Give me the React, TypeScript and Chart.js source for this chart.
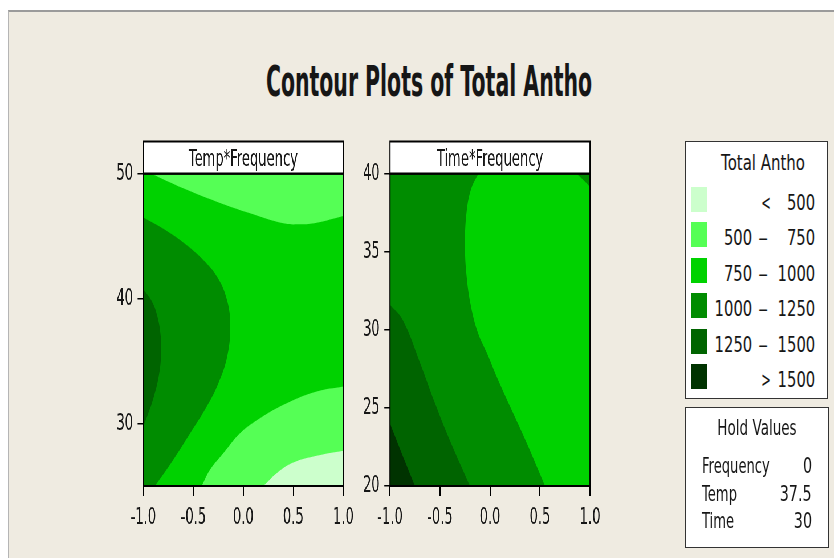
import React, { useEffect, useRef } from "react";
import { Chart, registerables } from "chart.js";
Chart.register(...registerables);

// ---------- data ----------
const LEVEL_COLORS = ["#CCFFCC", "#55FF55", "#00D200", "#008C00", "#006400", "#003300"];
const LEGEND_TITLE = "Total Antho";
const LEGEND_LOW = ["", "500", "750", "1000", "1250", ""];
const LEGEND_SYM = ["<", "–", "–", "–", "–", ">"];
const LEGEND_HIGH = ["500", "750", "1000", "1250", "1500", "1500"];
const HOLD_TITLE = "Hold Values";
const HOLD_NAMES = ["Frequency", "Temp", "Time"];
const HOLD_VALUES = ["0", "37.5", "30"];
const CHART_TITLE = "Contour Plots of Total Antho";

const X_RANGE = [-1, 1];
const X_TICKS = [-1, -0.5, 0, 0.5, 1];
const TF_Y_RANGE = [25, 50];
const TF_Y_TICKS = [30, 40, 50];
const TIME_Y_RANGE = [20, 40];
const TIME_Y_TICKS = [20, 25, 30, 35, 40];

// Temp*Frequency contour boundaries
const TF_TOP_500_750 = [
  { x: -0.92, y: 50 }, { x: -0.6, y: 48.83 }, { x: -0.266, y: 47.76 }, { x: 0.067, y: 46.83 },
  { x: 0.4, y: 46.03 }, { x: 0.567, y: 45.95 }, { x: 0.734, y: 46.08 }, { x: 1, y: 46.62 },
];
const TF_LEFT_1000_1250 = [
  { x: -1, y: 46.5 }, { x: -0.8, y: 45.6 }, { x: -0.6, y: 44.5 }, { x: -0.4, y: 43.1 },
  { x: -0.25, y: 41.6 }, { x: -0.16, y: 39.8 }, { x: -0.13, y: 37.8 }, { x: -0.16, y: 35.4 },
  { x: -0.25, y: 33.2 }, { x: -0.37, y: 31.3 }, { x: -0.533, y: 29.2 }, { x: -0.7, y: 27.1 },
  { x: -0.883, y: 25 },
];
const TF_LEFT_1250_1500 = [
  { x: -1, y: 40.75 }, { x: -0.916, y: 39.8 }, { x: -0.86, y: 38.6 }, { x: -0.826, y: 37.0 },
  { x: -0.822, y: 35.5 }, { x: -0.845, y: 33.8 }, { x: -0.9, y: 32.0 }, { x: -0.96, y: 30.6 },
  { x: -1, y: 29.76 },
];
const TF_BOTTOM_500_750 = [
  { x: 1, y: 32.96 }, { x: 0.734, y: 32.56 }, { x: 0.434, y: 31.63 }, { x: 0.167, y: 30.43 },
  { x: -0.033, y: 29.23 }, { x: -0.2, y: 27.63 }, { x: -0.333, y: 26.3 }, { x: -0.416, y: 25 },
];
const TF_BOTTOM_500 = [
  { x: 1, y: 27.82 }, { x: 0.734, y: 27.42 }, { x: 0.5, y: 26.88 }, { x: 0.334, y: 26.03 },
  { x: 0.2, y: 25 },
];

// Time*Frequency contour boundaries
const TIME_750_1000 = [
  { x: -0.117, y: 40 }, { x: -0.19, y: 39 }, { x: -0.235, y: 37.5 }, { x: -0.25, y: 35.5 },
  { x: -0.235, y: 33.5 }, { x: -0.19, y: 31.5 }, { x: -0.12, y: 29.8 }, { x: -0.03, y: 28.5 },
  { x: 0.067, y: 27.0 }, { x: 0.2, y: 25.1 }, { x: 0.367, y: 22.75 }, { x: 0.55, y: 20 },
];
const TIME_CORNER_1000_1250 = [
  { x: 0.867, y: 40 }, { x: 0.933, y: 39.6 }, { x: 1, y: 39.17 },
];
const TIME_1250_1500 = [
  { x: -1, y: 31.6 }, { x: -0.87, y: 30.6 }, { x: -0.7, y: 27.9 }, { x: -0.55, y: 25.3 },
  { x: -0.4, y: 22.9 }, { x: -0.2, y: 20 },
];
const TIME_1500 = [
  { x: -1, y: 24.0 }, { x: -0.883, y: 22.1 }, { x: -0.75, y: 20 },
];

// ---------- panels ----------
type P = { x: number; y: number };
const corner = (x: number, y: number): P => ({ x, y });

const TF_PANEL = {
  title: "Temp*Frequency",
  yRange: TF_Y_RANGE,
  yTicks: TF_Y_TICKS,
  layers: [
    { level: 2, curve: [], corners: [corner(X_RANGE[0], TF_Y_RANGE[0]), corner(X_RANGE[1], TF_Y_RANGE[0]), corner(X_RANGE[1], TF_Y_RANGE[1]), corner(X_RANGE[0], TF_Y_RANGE[1])] },
    { level: 1, curve: TF_TOP_500_750, corners: [corner(X_RANGE[1], TF_Y_RANGE[1])] },
    { level: 3, curve: TF_LEFT_1000_1250, corners: [corner(X_RANGE[0], TF_Y_RANGE[0])] },
    { level: 4, curve: TF_LEFT_1250_1500, corners: [] },
    { level: 1, curve: TF_BOTTOM_500_750, corners: [corner(X_RANGE[1], TF_Y_RANGE[0])] },
    { level: 0, curve: TF_BOTTOM_500, corners: [corner(X_RANGE[1], TF_Y_RANGE[0])] },
  ],
};

const TIME_PANEL = {
  title: "Time*Frequency",
  yRange: TIME_Y_RANGE,
  yTicks: TIME_Y_TICKS,
  layers: [
    { level: 3, curve: [], corners: [corner(X_RANGE[0], TIME_Y_RANGE[0]), corner(X_RANGE[1], TIME_Y_RANGE[0]), corner(X_RANGE[1], TIME_Y_RANGE[1]), corner(X_RANGE[0], TIME_Y_RANGE[1])] },
    { level: 2, curve: TIME_750_1000, corners: [corner(X_RANGE[1], TIME_Y_RANGE[0]), corner(X_RANGE[1], TIME_Y_RANGE[1])] },
    { level: 3, curve: TIME_CORNER_1000_1250, corners: [corner(X_RANGE[1], TIME_Y_RANGE[1])] },
    { level: 4, curve: TIME_1250_1500, corners: [corner(X_RANGE[0], TIME_Y_RANGE[0])] },
    { level: 5, curve: TIME_1500, corners: [corner(X_RANGE[0], TIME_Y_RANGE[0])] },
  ],
};

// polygon for a filled region: smooth boundary curve, sharp corners (doubled vertices)
function polygon(curve: P[], corners: P[]): P[] {
  const out: P[] = [];
  if (curve.length) {
    out.push(curve[0]);
    out.push(...curve);
    out.push(curve[curve.length - 1]);
  }
  corners.forEach((c) => { out.push(c, c); });
  return out;
}

// ---------- layout ----------
const S = 0.57; // horizontal squeeze of chart canvases
const BUF_W = 1463;
const H = 558;
const AREA_TOP = 173.7;
const AREA_BOTTOM = 486;
const HEADER_TOP = 141.5;
const FONT = '"DejaVu Sans", sans-serif';
const TEXT = "#161616";

const headerPlugin = {
  id: "panelHeader",
  afterDatasetsDraw(chart: any, _args: any, opts: any) {
    const { ctx, chartArea: a } = chart;
    ctx.save();
    ctx.fillStyle = "#ffffff";
    ctx.fillRect(a.left, HEADER_TOP, a.right - a.left, a.top - HEADER_TOP);
    ctx.strokeStyle = "#000";
    ctx.lineWidth = 2;
    ctx.strokeRect(a.left, HEADER_TOP, a.right - a.left, a.top - HEADER_TOP);
    ctx.strokeRect(a.left, a.top, a.right - a.left, a.bottom - a.top);
    ctx.fillStyle = TEXT;
    ctx.font = `23px ${FONT}`;
    ctx.textAlign = "center";
    ctx.textBaseline = "alphabetic";
    ctx.fillText(opts.text, (a.left + a.right) / 2, 165.5);
    ctx.restore();
  },
};

function Panel({ spec, left, right }: { spec: any; left: number; right: number }) {
  const ref = useRef<HTMLCanvasElement>(null);
  useEffect(() => {
    const Y_AXIS_W = 80;
    const X_AXIS_H = 50;
    const chart = new Chart(ref.current as HTMLCanvasElement, {
      type: "line",
      data: {
        datasets: spec.layers.map((l: any, i: number) => ({
          data: polygon(l.curve, l.corners),
          backgroundColor: LEVEL_COLORS[l.level],
          borderColor: "rgba(0,0,0,0)",
          borderWidth: 0,
          pointRadius: 0,
          pointHoverRadius: 0,
          fill: "shape",
          tension: 0.4,
          capBezierPoints: true,
          order: spec.layers.length - i,
        })),
      },
      options: {
        responsive: false,
        animation: false,
        events: [],
        layout: {
          padding: {
            left: left / S - Y_AXIS_W,
            right: BUF_W - right / S,
            top: AREA_TOP,
            bottom: H - AREA_BOTTOM - X_AXIS_H,
          },
        },
        plugins: {
          legend: { display: false },
          tooltip: { enabled: false },
          // @ts-ignore
          panelHeader: { text: spec.title },
        },
        scales: {
          x: {
            type: "linear",
            min: X_RANGE[0],
            max: X_RANGE[1],
            afterBuildTicks: (s: any) => { s.ticks = X_TICKS.map((v) => ({ value: v })); },
            afterFit: (s: any) => { s.height = X_AXIS_H; },
            grid: { display: true, drawOnChartArea: false, drawTicks: true, tickLength: 10, color: "#000", lineWidth: 2 },
            border: { display: false },
            ticks: {
              font: { family: FONT, size: 23 },
              color: TEXT,
              padding: 8,
              maxRotation: 0,
              autoSkip: false,
              callback: (v: any) => Number(v).toFixed(1),
            },
          },
          y: {
            type: "linear",
            min: spec.yRange[0],
            max: spec.yRange[1],
            afterBuildTicks: (s: any) => { s.ticks = spec.yTicks.map((v: number) => ({ value: v })); },
            afterFit: (s: any) => { s.width = Y_AXIS_W; },
            grid: { display: true, drawOnChartArea: false, drawTicks: true, tickLength: 10, color: "#000", lineWidth: 1.5 },
            border: { display: false },
            ticks: {
              font: { family: FONT, size: 23 },
              color: TEXT,
              padding: 8,
              autoSkip: false,
              callback: (v: any) => String(v),
            },
          },
        },
      },
      plugins: [headerPlugin],
    } as any);
    return () => chart.destroy();
  }, [spec, left, right]);
  return <canvas ref={ref} width={BUF_W} height={H} style={{ position: "absolute", left: 0, top: 0 }} />;
}

function Txt({ x, y, text, size, bold = false, align = "left", sx }: any) {
  const top = y - size * 0.846;
  const inner: any = {
    position: "absolute",
    top: 0,
    whiteSpace: "nowrap",
    fontFamily: FONT,
    fontSize: size,
    fontWeight: bold ? "bold" : "normal",
    lineHeight: `${size}px`,
    color: TEXT,
  };
  if (align === "left") {
    inner.left = 0;
    inner.transform = `scaleX(${sx})`;
    inner.transformOrigin = "0 50%";
  } else if (align === "right") {
    inner.right = 0;
    inner.transform = `scaleX(${sx})`;
    inner.transformOrigin = "100% 50%";
  } else {
    inner.left = 0;
    inner.transform = `translateX(-50%) scaleX(${sx})`;
  }
  return (
    <div style={{ position: "absolute", left: x, top, width: 0, height: size }}>
      <span style={inner}>{text}</span>
    </div>
  );
}

export default function App() {
  const ROW0 = 210;
  const ROW_STEP = 35.5;
  const NUM_SX = 0.72;
  const LEG_SIZE = 20.5;
  return (
    <div style={{ position: "fixed", left: 0, top: 0, width: 834, height: 558, background: "#fff", overflow: "hidden" }}>
      <div
        style={{
          position: "absolute", left: 8, top: 10, right: 0, bottom: 0, background: "#EFEBE1",
          borderTop: "2px solid #9b9b9b", borderLeft: "1px solid #b5b5b5",
        }}
      />
      <Txt x={428.5} y={96.7} text={CHART_TITLE} size={42} bold align="center" sx={0.487} />

      <div style={{ position: "absolute", left: 0, top: 0, width: BUF_W, height: H, transform: `scaleX(${S})`, transformOrigin: "0 0" }}>
        <Panel spec={TF_PANEL} left={143.3} right={343.3} />
        <Panel spec={TIME_PANEL} left={390} right={590} />
      </div>

      <div style={{ position: "absolute", left: 685, top: 141, width: 143, height: 258, border: "1px solid #333", background: "#fff", boxSizing: "border-box" }} />
      <Txt x={763} y={170} text={LEGEND_TITLE} size={LEG_SIZE} align="center" sx={0.73} />
      {LEVEL_COLORS.map((c, i) => (
        <React.Fragment key={i}>
          <div style={{ position: "absolute", left: 690.7, top: 186.7 + ROW_STEP * i, width: 16.6, height: 25, background: c }} />
          {LEGEND_LOW[i] ? <Txt x={751.7} y={ROW0 + ROW_STEP * i} text={LEGEND_LOW[i]} size={LEG_SIZE} align="right" sx={NUM_SX} /> : null}
          <Txt x={LEGEND_SYM[i] === "–" ? 763 : 765.5} y={ROW0 + ROW_STEP * i} text={LEGEND_SYM[i]} size={LEG_SIZE} align="center" sx={LEGEND_SYM[i] === "–" ? 0.95 : 0.56} />
          <Txt x={815} y={ROW0 + ROW_STEP * i} text={LEGEND_HIGH[i]} size={LEG_SIZE} align="right" sx={NUM_SX} />
        </React.Fragment>
      ))}

      <div style={{ position: "absolute", left: 685, top: 407, width: 144, height: 141, border: "1px solid #333", background: "#fff", boxSizing: "border-box" }} />
      <Txt x={756.7} y={435} text={HOLD_TITLE} size={LEG_SIZE} align="center" sx={0.66} />
      {HOLD_NAMES.map((n, i) => (
        <React.Fragment key={n}>
          <Txt x={702.3} y={[473.3, 501.7, 528.8][i]} text={n} size={LEG_SIZE} align="left" sx={0.64} />
          <Txt x={811.7} y={[473.3, 501.7, 528.8][i]} text={HOLD_VALUES[i]} size={LEG_SIZE} align="right" sx={0.7} />
        </React.Fragment>
      ))}
    </div>
  );
}
